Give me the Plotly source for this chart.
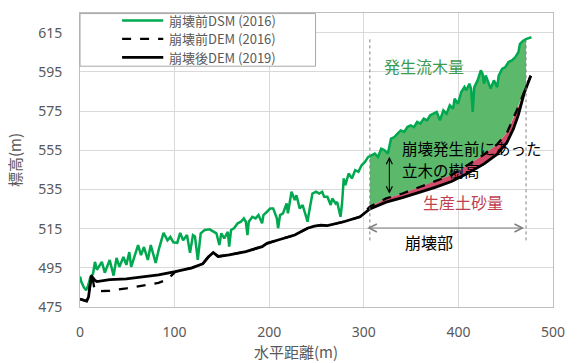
import numpy as np
import plotly.graph_objects as go

# Profile along the slope: horizontal distance (m) and elevation (m)
dsm_2016_x = [0, 1.3, 4.1, 6.5, 8.6, 11.2, 13.8, 15.8, 17.9, 23.1, 26.2, 31.4, 35.5, 38.6, 41.7,
              45.9, 49, 52.1, 54.1, 57.3, 61.4, 64.5, 67.6, 71.7, 74.8, 80, 83.1, 88.3, 92.5, 95.5,
              98.7, 102.8, 105.9, 109, 113.1, 116.3, 119.4, 121.5, 124.5, 127.6, 131.8, 137, 140.8,
              144.2, 147.3, 149.4, 152.5, 156.3, 157.7, 159.7, 162.8, 166.7, 170.1, 173.2, 175.3,
              177, 178.4, 182.2, 185.6, 188.7, 192.5, 193.9, 197.7, 201.1, 204.2, 208.1, 209.4,
              211.5, 214.6, 218.4, 219.8, 223.6, 227, 228.8, 232.2, 235.3, 239.1, 240.5, 242.5,
              245.7, 249.5, 252.9, 256, 258.1, 261.5, 265, 266.7, 270.2, 271.8, 275.4, 277, 278.8,
              280.5, 284, 287.4, 290.9, 294.3, 297.7, 301.2, 304.7, 308.1, 311.6, 315, 318.4,
              321.9, 325.4, 328.8, 332.3, 335.7, 339.1, 342.7, 346.1, 349.5, 353, 356.4, 359.8,
              363.4, 366.8, 370.2, 373.7, 377.1, 380.5, 384.1, 387.5, 390.9, 394.4, 396, 399.6,
              403, 406.4, 408.2, 411.6, 413.4, 415.1, 416.8, 420.3, 423.7, 425.5, 427.1, 428.9,
              432.3, 434.1, 437.5, 441, 442.6, 446.2, 449.6, 453, 456.5, 460, 463.4, 465.1, 468.5,
              472, 477.2]
dsm_2016_y = [490.5, 488, 485, 483.5, 486, 490.5, 492, 498, 494, 498, 492.5, 499, 491, 500, 495.5,
              500.5, 496.5, 503, 495.5, 500.5, 506.6, 501.5, 505.6, 499, 506.6, 497.5, 504, 512.8,
              509, 510.7, 508, 507.7, 512.8, 509, 511.7, 502.6, 511.7, 511, 499, 512.6, 514.3,
              514.6, 513.4, 512.6, 506.6, 512.6, 510, 513.4, 505.8, 514.3, 515.2, 517.7, 518.5,
              520.2, 518.5, 511.7, 518.5, 521, 520.2, 521.9, 517.7, 521.9, 523.6, 525.3, 525.3,
              520.2, 515.2, 521.9, 522.8, 527.8, 522.8, 533.8, 529.5, 532, 525.3, 527, 521, 518.5,
              524.4, 532.9, 533.8, 532.9, 533.8, 531.2, 531.2, 527, 530.4, 527.8, 528.6, 521,
              527.8, 540.6, 537.2, 543.1, 540.6, 544.8, 544, 547.3, 549, 551.6, 552.4, 553.3,
              551.6, 555.8, 555, 553.3, 560.9, 561.7, 563.4, 565.1, 564.3, 566.8, 567.7, 566.8,
              569.4, 568.6, 571.1, 570.2, 572.8, 573.6, 574.5, 570.2, 575.3, 573.6, 577.9, 576.2,
              581.3, 578.7, 584.7, 587.2, 585.5, 588.9, 586.4, 574.5, 587.2, 590.6, 595.7, 594,
              588.9, 593.1, 588, 586.4, 590.6, 587.2, 593.1, 596.5, 597.4, 600, 600.8, 602.4, 605,
              609.2, 610.9, 611.8, 612.6]

dem_2016_x = [0, 3, 7, 9, 10.5, 12, 13.5, 15, 17.9, 31.4, 49, 66.6, 83, 92, 97, 101, 118.3, 129.7,
              135.6, 140.8, 146, 157.7, 175.3, 192.5, 197.7, 209.4, 227, 240.5, 247.8, 254.7,
              261.5, 278.8, 296, 306.4, 323.6, 340.9, 358.2, 375.4, 392.6, 409.9, 427.1, 441,
              451.4, 462.3, 470, 476.5]
dem_2016_y = [479, 478.5, 478, 480, 486, 491, 489, 485, 483, 483.3, 484.5, 486, 487.3, 489, 491,
              493, 495, 497, 500.5, 502.8, 500.8, 501.6, 503.3, 505.8, 507.5, 509.2, 511.7,
              515.2, 516.3, 516.8, 516.5, 518.5, 521, 526.2, 530.4, 532.9, 536, 538.9, 542.3,
              547.5, 552.8, 558, 564, 576, 585.5, 593]

dem_2019_x = [0, 3, 7, 9, 10.5, 12, 13.5, 16, 17.9, 31.4, 49, 66.6, 83, 100.7, 118.3, 129.7, 135.6,
              140.8, 146, 157.7, 175.3, 192.5, 197.7, 209.4, 227, 240.5, 247.8, 254.7, 261.5,
              278.8, 296, 306.4, 323.6, 340.9, 358.2, 375.4, 392.6, 409.9, 427.1, 441, 451.4,
              458.2, 463.4, 469.8, 476.5]
dem_2019_y = [479, 478.5, 478, 480, 486, 491, 490, 488.5, 488, 489, 489.4, 490.4, 491.4, 493, 495,
              497, 500.5, 502.8, 500.8, 501.6, 503.3, 505.8, 507.5, 509.2, 511.7, 515.2, 516.3,
              516.8, 516.5, 518.5, 521, 525, 528.5, 530.8, 533.3, 536, 539, 543.2, 548, 553,
              559, 566, 573, 584.5, 593]

legend_names = ["崩壊前DSM (2016)", "崩壊前DEM (2016)", "崩壊後DEM (2019)"]

# Extent of the collapsed section (horizontal distance, m)
collapse_start = 306.4
collapse_end = 471.5

x_ticks = [0, 100, 200, 300, 400, 500]
y_ticks = [475, 495, 515, 535, 555, 575, 595, 615]

JP = "Noto Sans CJK JP"
GRAY = "#595959"
GREEN = "#00a84f"


def clip(xs, ys, a, b):
    """Part of a profile between a and b, with end values on the profile."""
    xs = np.asarray(xs, float)
    ys = np.asarray(ys, float)
    m = (xs > a) & (xs < b)
    sx = np.concatenate([[a], xs[m], [b]])
    sy = np.concatenate([[np.interp(a, xs, ys)], ys[m], [np.interp(b, xs, ys)]])
    return sx, sy


top_x, top_y = clip(dsm_2016_x, dsm_2016_y, collapse_start, collapse_end)
mid_x, mid_y = clip(dem_2016_x, dem_2016_y, collapse_start, collapse_end)
low_x, low_y = clip(dem_2019_x, dem_2019_y, collapse_start, collapse_end)

fig = go.Figure()

# Woody debris volume: canopy surface above the pre-collapse ground
fig.add_trace(go.Scatter(
    x=np.concatenate([top_x, mid_x[::-1]]), y=np.concatenate([top_y, mid_y[::-1]]),
    fill="toself", fillcolor="#5cb96c", line=dict(width=0), mode="lines",
    showlegend=False, hoverinfo="skip"))
# Sediment volume: ground lost between 2016 and 2019
fig.add_trace(go.Scatter(
    x=np.concatenate([mid_x, low_x[::-1]]), y=np.concatenate([mid_y, low_y[::-1]]),
    fill="toself", fillcolor="#d04c68", line=dict(width=0), mode="lines",
    showlegend=False, hoverinfo="skip"))

line_styles = [dict(color=GREEN, width=2.5),
               dict(color="black", width=2.3, dash="dash"),
               dict(color="black", width=2.8)]
profiles = [(dsm_2016_x, dsm_2016_y), (dem_2016_x, dem_2016_y), (dem_2019_x, dem_2019_y)]
for (px, py), name, style in zip(profiles, legend_names, line_styles):
    fig.add_trace(go.Scatter(x=px, y=py, mode="lines", name=name, line=style, showlegend=False))

# Boundaries of the collapsed section
for xb, ytop in [(collapse_start, 612), (collapse_end, 611)]:
    fig.add_shape(type="line", xref="x", yref="y", x0=xb, x1=xb, y0=509, y1=ytop,
                  line=dict(color="#7f7f7f", width=1, dash="dot"))

# Legend: frame, line samples and labels
fig.add_shape(type="rect", xref="paper", yref="paper", x0=0, x1=0.498, y0=0.819, y1=0.998,
              line=dict(color="#a6a6a6", width=1), fillcolor="white", layer="above")
legend_rows = [0.9746, 0.912, 0.849]
for yr, name, style in zip(legend_rows, legend_names, line_styles):
    fig.add_shape(type="line", xref="paper", yref="paper", x0=0.089, x1=0.176, y0=yr, y1=yr,
                  line=style, layer="above")
    fig.add_annotation(xref="paper", yref="paper", x=0.186, y=yr, text=name, showarrow=False,
                       xanchor="left", yanchor="middle", borderpad=0,
                       font=dict(family=JP, size=13, color=GRAY))

annotations = [
    dict(x=363.7, y=598.2, text="発生流木量", font=dict(family=JP, size=16, color="#3c9a52")),
    dict(x=338.8, y=556.0, text="崩壊発生前にあった", xanchor="left",
         font=dict(family=JP, size=15.5, color="black")),
    dict(x=338.8, y=544.8, text="立木の樹高", xanchor="left",
         font=dict(family=JP, size=15.5, color="black")),
    dict(x=404.6, y=528.7, text="生産土砂量", font=dict(family=JP, size=16, color="#c0414f")),
    dict(x=368.5, y=508.3, text="崩壊部", font=dict(family=JP, size=16, color="black")),
]
for a in annotations:
    a.update(xref="x", yref="y", showarrow=False, borderpad=0)
    fig.add_annotation(**a)

# Width of the collapsed section
fig.add_annotation(x=469.5, y=515.3, ax=302, ay=515.3, xref="x", yref="y", axref="x", ayref="y",
                   text="", showarrow=True, arrowside="end+start", arrowhead=5, arrowsize=1.3,
                   arrowwidth=1.2, arrowcolor="#7f7f7f")
# Tree height before the collapse
fig.add_annotation(x=327, y=551.6, ax=327, ay=532, xref="x", yref="y", axref="x", ayref="y",
                   text="", showarrow=True, arrowside="end+start", arrowhead=5, arrowsize=1.2,
                   arrowwidth=1, arrowcolor="black")

# Horizontal axis title
fig.add_annotation(xref="paper", yref="paper", x=0.4576, y=-0.1525, xanchor="center",
                   yanchor="middle", text="水平距離(m)", showarrow=False, borderpad=0,
                   font=dict(family=JP, size=15, color=GRAY))

fig.update_layout(
    width=577, height=363,
    margin=dict(l=80, r=14, t=12, b=56),
    paper_bgcolor="white", plot_bgcolor="white",
    font=dict(family="Noto Sans", size=14, color=GRAY),
    showlegend=False,
    xaxis=dict(range=[0, 500], tickvals=x_ticks, showgrid=True, gridcolor="#d9d9d9",
               showline=True, linecolor="#bfbfbf", mirror=True, zeroline=False,
               ticks="outside", ticklen=12, tickcolor="rgba(0,0,0,0)"),
    yaxis=dict(range=[475, 625], tickvals=y_ticks, showgrid=True, gridcolor="#d9d9d9",
               showline=True, linecolor="#bfbfbf", mirror=True, zeroline=False,
               ticks="outside", ticklen=14, tickcolor="rgba(0,0,0,0)",
               title=dict(text="標高(m)", font=dict(family=JP, size=15, color=GRAY), standoff=12)),
)

fig.write_html("out.html")
